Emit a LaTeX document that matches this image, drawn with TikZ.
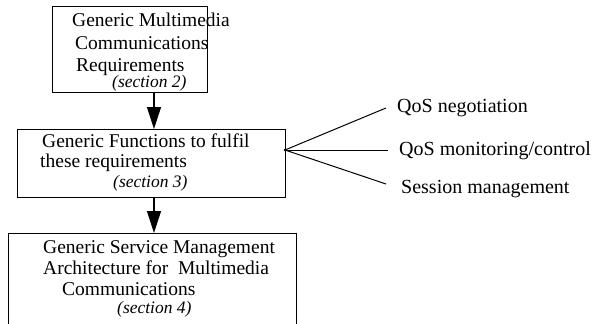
\documentclass[tikz,border=0pt]{standalone}
\usepackage{fontspec}
\setmainfont{Liberation Serif}
\usetikzlibrary{arrows.meta,calc}
\begin{document}
\begin{tikzpicture}[x=1pt,y=-1pt,
  box/.style={draw,line width=1.1pt,inner sep=0pt,anchor=north west},
  txt/.style={anchor=base west,inner sep=0pt,font=\fontsize{19.5}{23}\selectfont},
  lbl/.style={anchor=base west,inner sep=0pt,font=\fontsize{20}{24}\selectfont},
  sec/.style={anchor=base west,inner sep=0pt,font=\fontsize{17.5}{21}\selectfont\itshape},
  flow/.style={line width=1.1pt,-{Triangle[width=14pt,length=22pt]}},
  fan/.style={line width=1pt}]
\useasboundingbox (0,0) rectangle (592,324);
\clip (0,0) rectangle (592,324);
% boxes
\node[box,minimum width=155pt,minimum height=86pt] (b1) at (52,6) {};
\node[box,minimum width=268pt,minimum height=68pt] (b2) at (17,129) {};
\node[box,minimum width=288pt,minimum height=110pt] (b3) at (8,233) {};
% box 1 text
\node[txt] (t11) at (72,27) {Generic Multimedia};
\node[txt] (t12) at (75,49) {Communications};
\node[txt] (t13) at (76,71) {Requirements};
\node[sec] (s1) at (112,87) {(section 2)};
% box 2 text
\node[txt] (t21) at (42,147) {Generic Functions to fulfil};
\node[txt] (t22) at (40,167) {these requirements};
\node[sec] (s2) at (113,187) {(section 3)};
% box 3 text
\node[txt] (t31) at (43,253) {Generic Service Management};
\node[txt] (t32) at (43,274) {Architecture for\ \ Multimedia};
\node[txt] (t33) at (62,295) {Communications};
\node[sec] (s3) at (117,313) {(section 4)};
% arrows
\coordinate (ax) at (154,0);
\draw[flow] (b1.south -| ax) -- (b2.north -| ax);
\draw[flow] (b2.south -| ax) -- (b3.north -| ax);
% fan
\coordinate (f) at (285,150);
\coordinate (e1) at (386,108);
\coordinate (e2) at (388,150);
\coordinate (e3) at (386,184);
\draw[fan] (f) -- (e1);
\draw[fan] (f) -- (e2);
\draw[fan] (f) -- (e3);
\fill (f) circle (1.5pt);
\node[lbl] (q1) at (397,112) {QoS negotiation};
\node[lbl] (q2) at (399,155) {QoS monitoring/control};
\node[lbl] (q3) at (401,193) {Session management};
\end{tikzpicture}
\end{document}
